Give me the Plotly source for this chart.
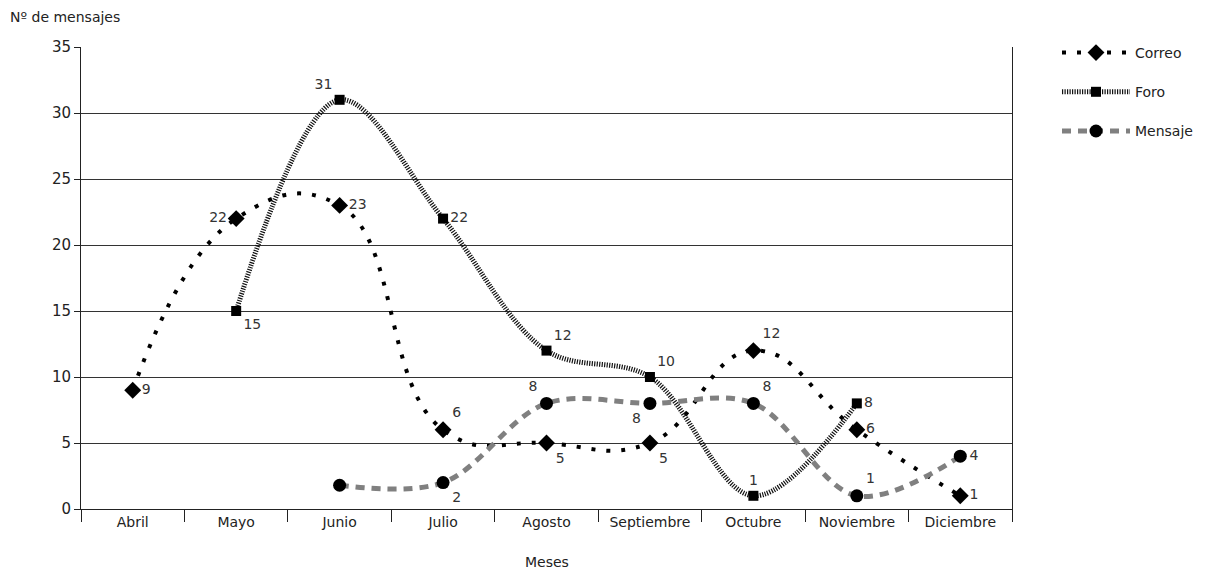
import plotly.graph_objects as go

meses = ["Abril", "Mayo", "Junio", "Julio", "Agosto", "Septiembre", "Octubre", "Noviembre", "Diciembre"]
correo = [9, 22, 23, 6, 5, 5, 12, 6, 1]
foro = [None, 15, 31, 22, 12, 10, 1, 8, None]
mensaje = [None, None, 1.8, 2, 8, 8, 8, 1, 4]

correo_lbl = ["9", "22", "23", "6", "5", "5", "12", "6", "1"]
foro_lbl = ["", "15", "31", "22", "12", "10", "1", "8", ""]
mensaje_lbl = ["", "", "", "2", "8", "8", "8", "1", "4"]

correo_pos = ["middle right", "middle left", "middle right", "top right", "bottom right",
              "bottom right", "top right", "middle right", "middle right"]
foro_pos = ["middle right", "bottom right", "top left", "middle right", "top right",
            "top right", "top center", "middle right", "middle right"]
mensaje_pos = ["middle right", "middle right", "middle right", "bottom right", "top left",
               "bottom left", "top right", "top right", "middle right"]

FONT = "DejaVu Sans"
W, H = 1199, 562          # page body has an 8px margin
L, T = 73, 39
PW, PH = 931, 462

fig = go.Figure()

fig.add_trace(go.Scatter(
    x=meses, y=correo, name="Correo", mode="lines+markers+text",
    line=dict(color="black", width=4, dash="4px,11px", shape="spline", smoothing=1.3),
    marker=dict(symbol="diamond", size=13, color="black"),
    text=correo_lbl, textposition=correo_pos,
    textfont=dict(size=14, color="#333", family=FONT),
    legendgroup="a",
))
fig.add_trace(go.Scatter(
    x=meses, y=foro, name="Foro", mode="lines+markers+text",
    line=dict(color="#111", width=5, dash="1.2px,1.3px", shape="spline", smoothing=1.0),
    marker=dict(symbol="square", size=10, color="black"),
    text=foro_lbl, textposition=foro_pos,
    textfont=dict(size=14, color="#333", family=FONT),
    legendgroup="b",
))
fig.add_trace(go.Scatter(
    x=meses, y=mensaje, name="Mensaje", mode="lines+markers+text",
    line=dict(color="#808080", width=5, dash="9px,7px", shape="spline", smoothing=1.0),
    marker=dict(symbol="circle", size=13, color="black"),
    text=mensaje_lbl, textposition=mensaje_pos,
    textfont=dict(size=14, color="#333", family=FONT),
    legendgroup="c",
))

fig.update_layout(
    width=W, height=H,
    margin=dict(l=L, r=W - L - PW, t=T, b=H - T - PH),
    paper_bgcolor="white", plot_bgcolor="white",
    font=dict(family=FONT, size=14, color="#222"),
    showlegend=True,
    legend=dict(
        xref="container", yref="container", x=1049 / W, y=1 - 29 / H,
        xanchor="left", yanchor="top", traceorder="grouped", tracegroupgap=18,
        itemwidth=68, font=dict(size=14, color="#222", family=FONT),
        bgcolor="rgba(0,0,0,0)",
    ),
    xaxis=dict(
        type="category", tickson="boundaries", ticks="outside", ticklen=12,
        tickcolor="#222", showline=True, linecolor="#222", linewidth=1,
        showgrid=False, tickfont=dict(size=14, color="#222"),
        range=[-0.5, 8.5],
    ),
    yaxis=dict(
        range=[0, 35], dtick=5, ticks="outside", ticklen=6, tickcolor="#222",
        showline=True, linecolor="#222", linewidth=1, mirror=True,
        showgrid=True, gridcolor="#333", gridwidth=1, zeroline=False,
        tickfont=dict(size=15, color="#222"),
    ),
    annotations=[
        dict(text="Nº de mensajes", xref="paper", yref="paper", x=(8 - 81) / PW,
             y=1 + 30 / PH, xanchor="left", yanchor="middle", showarrow=False,
             font=dict(size=14, color="#222")),
        dict(text="Meses", xref="paper", yref="paper", x=0.5, y=-53 / PH,
             xanchor="center", yanchor="middle", showarrow=False,
             font=dict(size=14, color="#222")),
    ],
)

fig.write_html("out.html")
